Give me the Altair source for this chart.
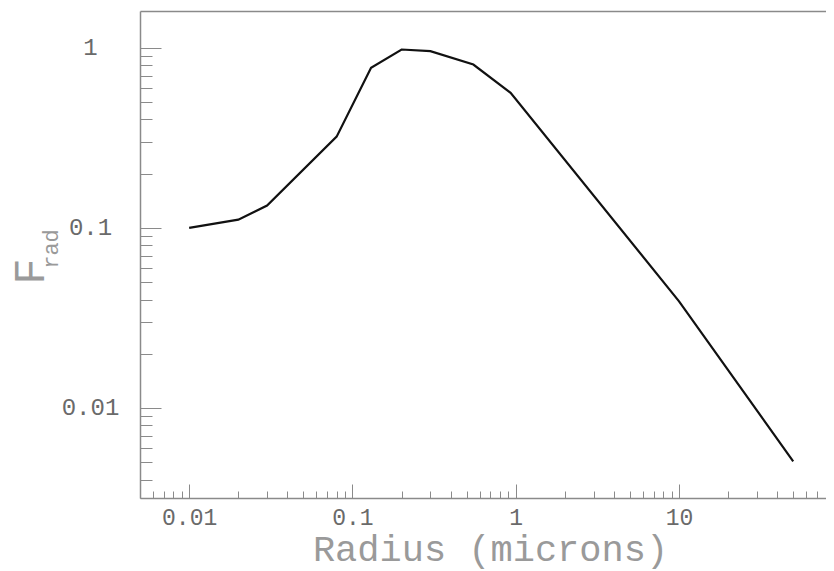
import altair as alt
import pandas as pd

# Curve (radius in microns, F_rad)
radius = [0.01, 0.02, 0.03, 0.08, 0.13, 0.2, 0.3, 0.55, 0.93, 10, 50]
frad = [0.1, 0.111, 0.133, 0.321, 0.774, 0.978, 0.957, 0.807, 0.562, 0.0391, 0.00505]

# Axis tick values (major decades + minor multiples)
x_ticks = [0.005, 0.006, 0.007, 0.008, 0.009,
           0.01, 0.02, 0.03, 0.04, 0.05, 0.06, 0.07, 0.08, 0.09,
           0.1, 0.2, 0.3, 0.4, 0.5, 0.6, 0.7, 0.8, 0.9,
           1, 2, 3, 4, 5, 6, 7, 8, 9,
           10, 20, 30, 40, 50, 60, 70]
y_ticks = [0.004, 0.005, 0.006, 0.007, 0.008, 0.009,
           0.01, 0.02, 0.03, 0.04, 0.05, 0.06, 0.07, 0.08, 0.09,
           0.1, 0.2, 0.3, 0.4, 0.5, 0.6, 0.7, 0.8, 0.9, 1]
x_domain = [0.005, 79.4]
y_domain = [0.003162, 1.6]

df = pd.DataFrame({"r": radius, "f": frad})
sub_df = pd.DataFrame({"t": ["rad"]})

FONT = "Liberation Mono"
AXIS_GRAY = "#8a8a8a"
LABEL_GRAY = "#6a6a6a"
TITLE_GRAY = "#9a9a9a"

is_major = "abs(log(datum.value)/LN10 - round(log(datum.value)/LN10)) < 0.001"

x_scale = alt.Scale(type="log", domain=x_domain, nice=False)
y_scale = alt.Scale(type="log", domain=y_domain, nice=False)

x_axis = alt.Axis(
    orient="bottom", values=x_ticks, grid=False,
    tickSize={"expr": f"({is_major}) ? -14 : -7"},
    tickColor=AXIS_GRAY, tickWidth=1,
    domainColor=AXIS_GRAY, domainWidth=1.5,
    labelExpr=f"({is_major}) ? format(datum.value, '~g') : ''",
    labelFont=FONT, labelFontSize=23, labelColor=LABEL_GRAY,
    labelPadding=22, labelFlush=False, labelOverlap=False,
    title="Radius (microns)", titleFont=FONT, titleFontSize=37,
    titleFontWeight="normal", titleColor=TITLE_GRAY,
    titleX=350, titleY=62, titleAlign="center", titleBaseline="alphabetic",
)

y_axis = alt.Axis(
    orient="left", values=y_ticks, grid=False,
    tickSize={"expr": f"({is_major}) ? -21 : -12"},
    tickColor=AXIS_GRAY, tickWidth=1,
    domainColor=AXIS_GRAY, domainWidth=1.5,
    labelExpr=f"({is_major}) ? format(datum.value, '~g') : ''",
    labelFont=FONT, labelFontSize=24, labelColor=LABEL_GRAY,
    labelAlign="center", labelBaseline="middle",
    labelPadding=71, labelFlush=False, labelOverlap=False,
    title="F", titleFont=FONT, titleFontSize=44,
    titleFontWeight="normal", titleColor=TITLE_GRAY,
    titleAngle=270, titleX=-97, titleY=260, titleAlign="center",
    titleBaseline="alphabetic",
)

line = alt.Chart(df).mark_line(color="#111111", strokeWidth=2.2).encode(
    x=alt.X("r:Q", scale=x_scale, axis=x_axis),
    y=alt.Y("f:Q", scale=y_scale, axis=y_axis),
)

top_axis = alt.Chart(df).mark_point(opacity=0).encode(
    x=alt.X("r:Q", scale=x_scale,
            axis=alt.Axis(orient="top", labels=False, ticks=False, grid=False,
                          domainColor=AXIS_GRAY, domainWidth=1.5, title="")),
)

subscript = alt.Chart(sub_df).mark_text(
    font=FONT, fontSize=22, color=TITLE_GRAY, angle=270,
    align="center", baseline="alphabetic",
).encode(
    text="t:N",
    x=alt.value(-82),
    y=alt.value(238),
)

chart = alt.layer(line, top_axis, subscript).resolve_axis(
    x="independent"
).properties(
    width=686, height=487,
    padding={"left": 132, "top": 3, "right": 0, "bottom": 73},
    autosize=alt.AutoSizeParams(type="none"),
).configure_view(strokeWidth=0)

chart.save("out.html", embed_options={"renderer": "svg", "actions": False})
